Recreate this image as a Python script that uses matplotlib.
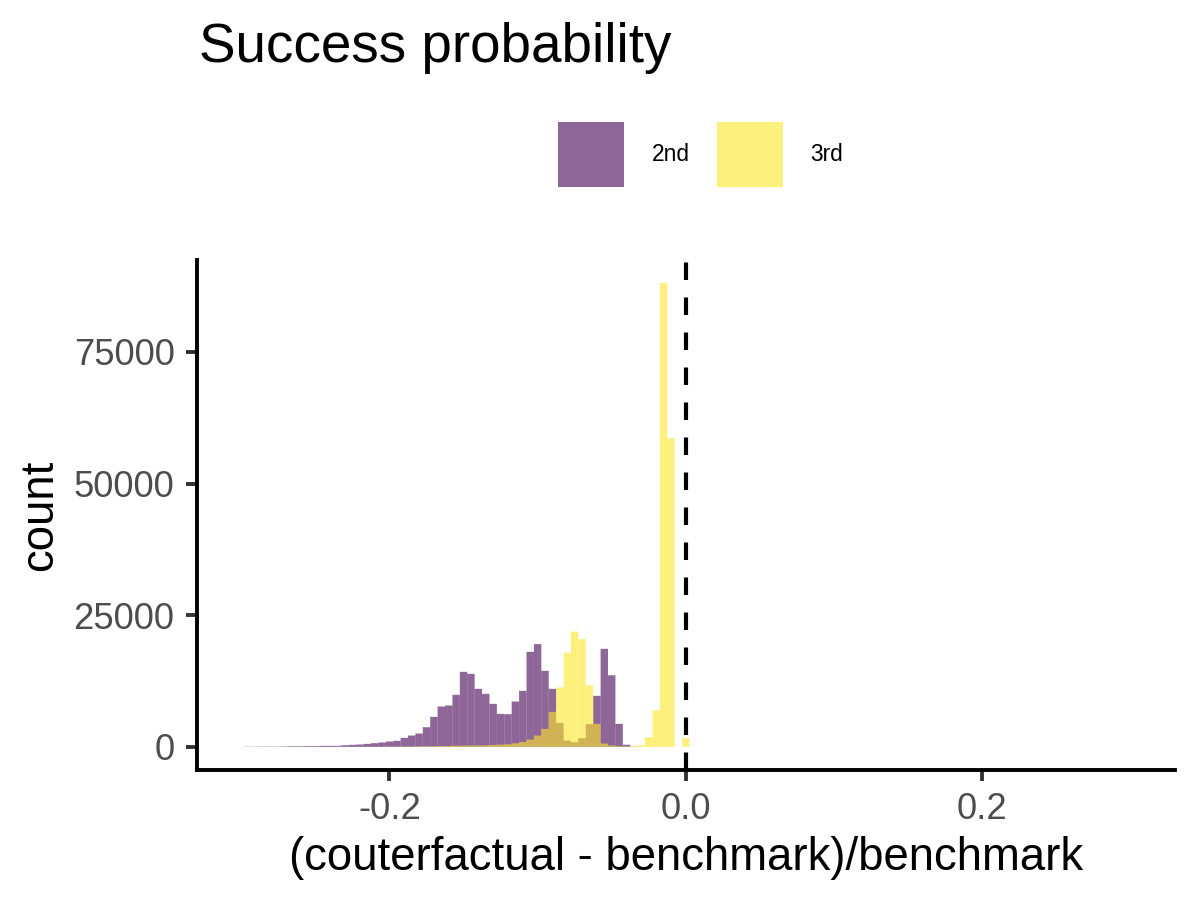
import numpy as np
import matplotlib
matplotlib.use("Agg")
import matplotlib.pyplot as plt

plt.rcParams['font.family'] = ['Liberation Sans', 'DejaVu Sans']

# histogram bins (width 0.005), centres from -0.295 to 0.0
bin_width = 0.005
bin_centers = np.round(np.arange(-59, 1) * bin_width, 3)

# counts per bin
second = [40, 40, 60, 60, 60, 90, 120, 120, 150, 150,
          190, 190, 190, 310, 380, 440, 570, 700, 830, 1010,
          1140, 1710, 2150, 2530, 3730, 5700, 7660, 7850, 9880, 14250,
          13870, 11020, 10070, 8170, 6270, 6200, 8610, 10640, 18050, 19510,
          14440, 11020, 4560, 1200, 880, 1640, 4300, 9690, 18620, 13600,
          4370, 400, 50, 0, 0, 0, 0, 0, 0, 0]
third = [0, 0, 0, 0, 0, 0, 0, 0, 0, 0,
         0, 0, 0, 0, 0, 0, 0, 0, 20, 30,
         40, 50, 60, 80, 100, 120, 150, 180, 210, 230,
         250, 250, 300, 360, 430, 490, 680, 930, 1370, 2150,
         3420, 6650, 11270, 17860, 21900, 20450, 11700, 4370, 630, 250,
         100, 100, 150, 320, 1830, 6960, 88050, 58600, 0, 1650]
labels = ["2nd", "3rd"]

purple = "#440154"
yellow = "#FDE725"

fig = plt.figure(figsize=(6, 4.5), dpi=200)
ax = fig.add_axes([0.164, 0.1444, 0.815, 0.5667])

handles = []
for counts, col, lab in [(second, purple, labels[0]), (third, yellow, labels[1])]:
    counts = np.array(counts)
    keep = counts > 0
    h = ax.bar(bin_centers[keep], counts[keep], width=bin_width, color=col,
               alpha=0.6, linewidth=0, snap=False, label=lab)
    handles.append(h)

ax.axvline(0, color="black", linewidth=1.5, linestyle=(0, (4.2, 4.2)))

ymax = max(max(second), max(third))
ax.set_xlim(-0.33, 0.33)
ax.set_ylim(-0.05 * ymax, 1.05 * ymax)
ax.set_xticks([-0.2, 0.0, 0.2])
ax.set_xticklabels(["-0.2", "0.0", "0.2"])
ax.set_yticks([0, 25000, 50000, 75000])
ax.set_yticklabels(["0", "25000", "50000", "75000"])

for side in ["top", "right"]:
    ax.spines[side].set_visible(False)
for side in ["left", "bottom"]:
    ax.spines[side].set_linewidth(1.4)
    ax.spines[side].set_color("black")

ax.tick_params(axis="both", length=4, width=1.4, color="#333333",
               labelsize=13.1, labelcolor="#4D4D4D", pad=4)

ax.set_xlabel("(couterfactual - benchmark)/benchmark", fontsize=16.4, labelpad=3)
ax.set_ylabel("count", fontsize=16.4, labelpad=4)

fig.text(0.166, 0.931, "Success probability", fontsize=19.7, ha="left",
         va="baseline")

fig.legend(handles=handles, labels=labels, loc="center",
           bbox_to_anchor=(0.584, 0.828), ncol=2, frameon=False,
           fontsize=8.2, handlelength=2.9, handleheight=4.0,
           handletextpad=1.2, columnspacing=1.2, borderpad=0,
           borderaxespad=0)

fig.savefig("out.png", dpi=200)
